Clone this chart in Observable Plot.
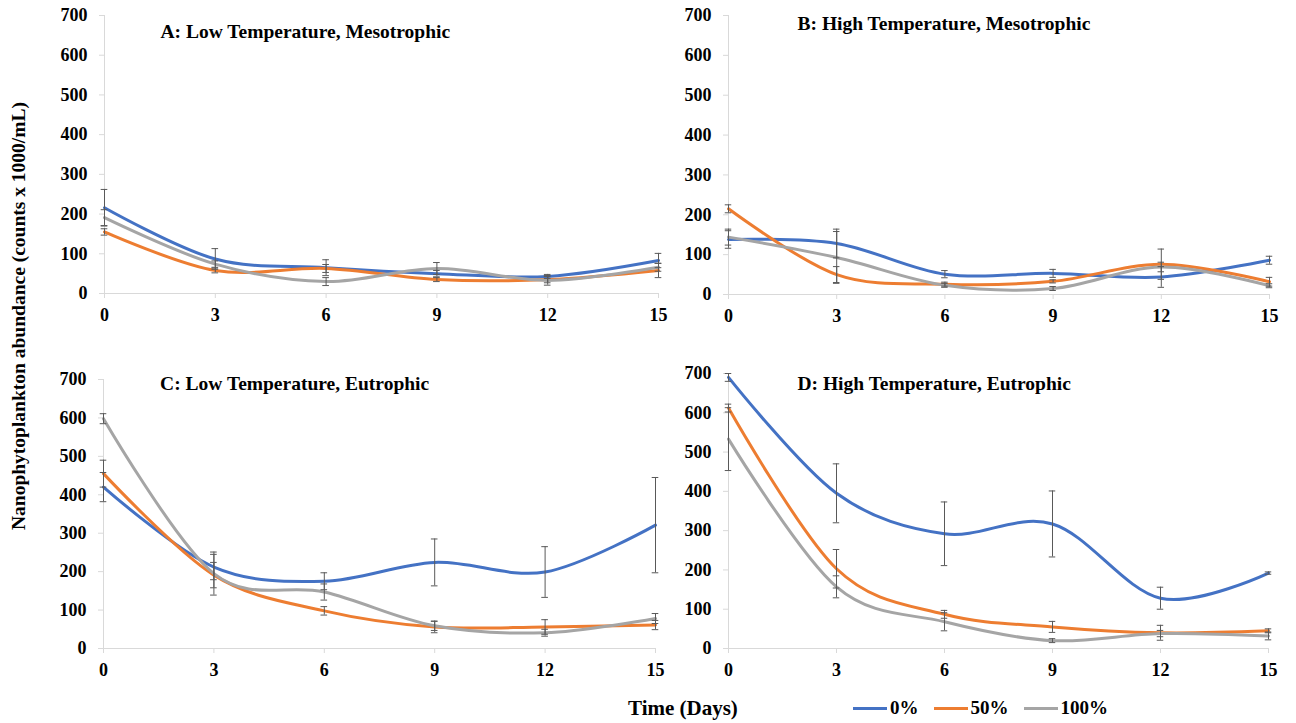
<!DOCTYPE html>
<html>
<head>
<meta charset="utf-8">
<script src="https://cdn.jsdelivr.net/npm/d3@7"></script>
<script src="https://cdn.jsdelivr.net/npm/@observablehq/plot@0.6"></script>
<style>
  body { margin: 0; background: #fff; }
  #wrap { position: relative; width: 1296px; height: 723px; overflow: hidden; background: #fff;
          font-family: "Liberation Serif", "Times New Roman", serif; font-weight: bold; color: #000; }
  #wrap svg { position: absolute; overflow: visible; background: transparent; }
  #wrap svg, #wrap svg g, #wrap svg text, #wrap svg tspan {
    font-family: "Liberation Serif", "Times New Roman", serif !important; font-weight: bold !important; }
  .ytitle { position: absolute; left: 18.5px; top: 316px; transform: translate(-50%, -50%) rotate(-90deg);
            white-space: nowrap; font-size: 19.5px; }
  .xtitle { position: absolute; left: 628px; top: 696px; font-size: 21px; white-space: nowrap; }
  .legend { position: absolute; left: 853px; top: 697px; display: flex; align-items: center; font-size: 19px; white-space: nowrap; }
  .legend .sw { display: inline-block; width: 34px; height: 3px; margin-right: 3px; }
  .legend .lab { margin-right: 15px; }
</style>
</head>
<body>
<div id="wrap"></div>
<script>
// ---- data ----
const days = [0, 3, 6, 9, 12, 15];
const series = ["0%", "50%", "100%"];
const colors = ["#4472C4", "#ED7D31", "#A5A5A5"];
const xTicks = [0, 3, 6, 9, 12, 15];
const yTicks = [0, 100, 200, 300, 400, 500, 600, 700];
const titles = [
  "A: Low Temperature, Mesotrophic",
  "B: High Temperature, Mesotrophic",
  "C: Low Temperature, Eutrophic",
  "D: High Temperature, Eutrophic"
];

// Panel A: Low Temperature, Mesotrophic
const a0 = [216, 87, 65, 50, 43, 83];
const a0err = [46, 26, 20, 8, 5, 18];
const a50 = [155, 58, 63, 35, 35, 58];
const a50err = [8, 6, 10, 5, 8, 18];
const a100 = [191, 74, 30, 63, 33, 66];
const a100err = [20, 8, 10, 15, 12, 10];

// Panel B: High Temperature, Mesotrophic
const b0 = [138, 128, 51, 53, 44, 86];
const b0err = [22, 36, 9, 10, 26, 10];
const b50 = [215, 50, 26, 33, 76, 32];
const b50err = [10, 20, 5, 4, 38, 11];
const b100 = [144, 93, 23, 15, 69, 22];
const b100err = [20, 65, 5, 5, 12, 5];

// Panel C: Low Temperature, Eutrophic
const c0 = [420, 212, 175, 224, 199, 321];
const c0err = [38, 33, 22, 61, 66, 124];
const c50 = [455, 191, 98, 56, 56, 61];
const c50err = [35, 33, 11, 15, 19, 12];
const c100 = [598, 195, 147, 59, 41, 78];
const c100err = [13, 56, 21, 12, 9, 13];

// Panel D: High Temperature, Eutrophic
const d0 = [690, 395, 292, 317, 128, 192];
const d0err = [10, 75, 81, 84, 28, 3];
const d50 = [612, 203, 87, 55, 40, 45];
const d50err = [10, 49, 10, 14, 19, 5];
const d100 = [533, 157, 68, 20, 38, 32];
const d100err = [80, 28, 23, 5, 8, 10];

function rows(list) {
  const out = [];
  list.forEach(([means, errs], si) => {
    days.forEach((day, i) => out.push({day, series: series[si], v: means[i], e: errs[i]}));
  });
  return out;
}

const panels = [
  {data: rows([[a0, a0err], [a50, a50err], [a100, a100err]]), title: titles[0],
   left: 0, top: 0, width: 660, height: 330, m: [15, 2, 37, 104], tdx: 56, tdy: 16.7},
  {data: rows([[b0, b0err], [b50, b50err], [b100, b100err]]), title: titles[1],
   left: 640, top: 0, width: 656, height: 330, m: [15, 27, 36, 88], tdx: 69, tdy: 8.3},
  {data: rows([[c0, c0err], [c50, c50err], [c100, c100err]]), title: titles[2],
   left: 0, top: 340, width: 660, height: 340, m: [39, 5, 32, 103], tdx: 56.6, tdy: 4},
  {data: rows([[d0, d0err], [d50, d50err], [d100, d100err]]), title: titles[3],
   left: 640, top: 340, width: 656, height: 340, m: [33, 28, 32, 88], tdx: 69, tdy: 10.6}
];

const wrap = document.getElementById("wrap");
const cap = 0.09;
const fontFamily = '"Liberation Serif", "Times New Roman", serif';

panels.forEach(p => {
  const chart = Plot.plot({
    width: p.width,
    height: p.height,
    marginTop: p.m[0], marginRight: p.m[1], marginBottom: p.m[2], marginLeft: p.m[3],
    style: {fontFamily, fontWeight: "bold", background: "transparent", overflow: "visible"},
    x: {domain: [0, 15]},
    y: {domain: [0, 700]},
    color: {domain: series, range: colors},
    marks: [
      Plot.ruleX([0], {stroke: "#d9d9d9", strokeWidth: 1}),
      Plot.ruleY([0], {stroke: "#d9d9d9", strokeWidth: 1}),
      Plot.axisY({ticks: yTicks, tickSize: 5, tickPadding: 12, stroke: "#d9d9d9", fill: "#000", fontFamily,
                  fontSize: 18, fontWeight: "bold", label: null, tickFormat: d => String(d)}),
      Plot.axisX({ticks: xTicks, tickSize: 5, tickPadding: 10, stroke: "#d9d9d9", fill: "#000", fontFamily,
                  fontSize: 18, fontWeight: "bold", label: null, tickFormat: d => String(d)}),
      Plot.line(p.data, {x: "day", y: "v", z: "series", stroke: "series", strokeWidth: 3, curve: "cardinal"}),
      Plot.ruleX(p.data, {x: "day", y1: d => d.v - d.e, y2: d => d.v + d.e, stroke: "#595959", strokeWidth: 1}),
      Plot.ruleY(p.data, {y: d => d.v + d.e, x1: d => d.day - cap, x2: d => d.day + cap, stroke: "#595959", strokeWidth: 1}),
      Plot.ruleY(p.data, {y: d => d.v - d.e, x1: d => d.day - cap, x2: d => d.day + cap, stroke: "#595959", strokeWidth: 1}),
      Plot.text([p.title], {frameAnchor: "top-left", dx: p.tdx, dy: p.tdy, textAnchor: "start", lineAnchor: "middle",
                            fontFamily, fontSize: 19.5, fontWeight: "bold", fill: "#000"})
    ]
  });
  chart.style.left = p.left + "px";
  chart.style.top = p.top + "px";
  wrap.appendChild(chart);
});

// axis titles
const yt = document.createElement("div");
yt.className = "ytitle";
yt.textContent = "Nanophytoplankton abundance (counts x 1000/mL)";
wrap.appendChild(yt);

const xt = document.createElement("div");
xt.className = "xtitle";
xt.textContent = "Time (Days)";
wrap.appendChild(xt);

// legend
const lg = document.createElement("div");
lg.className = "legend";
series.forEach((s, i) => {
  const sw = document.createElement("span");
  sw.className = "sw";
  sw.style.background = colors[i];
  const lab = document.createElement("span");
  lab.className = "lab";
  lab.textContent = s;
  lg.appendChild(sw);
  lg.appendChild(lab);
});
wrap.appendChild(lg);
</script>
</body>
</html>
